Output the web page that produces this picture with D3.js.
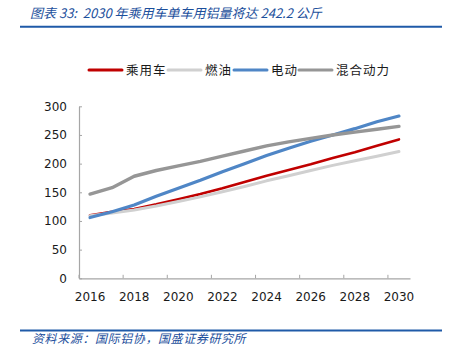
<!DOCTYPE html>
<html>
<head>
<meta charset="utf-8">
<script src="https://cdn.jsdelivr.net/npm/d3@7"></script>
<style>
  body { margin: 0; background: #fff; }
  svg { display: block; }
</style>
</head>
<body>
<div id="chart"></div>
<script>
const YEARS = d3.range(2016, 2031)
const X_TICKS = [2016, 2018, 2020, 2022, 2024, 2026, 2028, 2030]
const Y_TICKS = [0, 50, 100, 150, 200, 250, 300]

const SERIES_NAMES = ["乘用车", "燃油", "电动", "混合动力"]
const PASSENGER = [110, 116, 121, 129, 138, 147, 157, 168, 179, 189, 199, 210, 220, 231, 242.2]
const FUEL = [109, 114, 119, 126, 134, 142, 151, 160, 170, 179, 188, 197, 205, 213, 221]
const ELECTRIC = [106, 116, 128, 143, 157, 171, 186, 200, 214, 227, 239, 250, 261, 273, 283]
const HYBRID = [147, 158, 178, 188, 196, 204, 213, 222, 231, 238, 244, 250, 255, 260, 265]

const TITLE = "图表 33:  2030 年乘用车单车用铝量将达 242.2 公斤"
const SOURCE = "资料来源：国际铝协，国盛证券研究所"

const WIDTH = 452
const HEIGHT = 354
const PLOT = { LEFT: 79, RIGHT: 410, TOP: 106.3, BOTTOM: 278.3 }
const COLORS = ["#c00000", "#d0d0d0", "#4f86c6", "#969696"]
const STROKES = [2.6, 3, 3.2, 3.4]
const AXIS_COLOR = "#a6a6a6"
const BLUE_TEXT = "#1c4f9c"

const svg = d3.select("#chart")
  .append("svg")
  .attr("width", WIDTH)
  .attr("height", HEIGHT)

svg.append("rect").attr("width", WIDTH).attr("height", HEIGHT).attr("fill", "#fff")

// header + footer
svg.append("text")
  .attr("x", 30)
  .attr("y", 18)
  .attr("font-family", "'Noto Sans CJK SC', sans-serif")
  .attr("font-size", 13)
  .attr("font-style", "italic")
  .attr("fill", BLUE_TEXT)
  .attr("xml:space", "preserve")
  .text(TITLE)

svg.append("line")
  .attr("x1", 20).attr("x2", 442)
  .attr("y1", 26.7).attr("y2", 26.7)
  .attr("stroke", "#1f5aa8")
  .attr("stroke-width", 2)

svg.append("line")
  .attr("x1", 20).attr("x2", 442)
  .attr("y1", 330.5).attr("y2", 330.5)
  .attr("stroke", "#1f5aa8")
  .attr("stroke-width", 2)

svg.append("text")
  .attr("x", 32)
  .attr("y", 343)
  .attr("font-family", "'Noto Sans CJK SC', sans-serif")
  .attr("font-size", 12)
  .attr("font-style", "italic")
  .attr("fill", BLUE_TEXT)
  .attr("letter-spacing", 0.6)
  .text(SOURCE)

// scales
const x = d3.scaleBand()
  .domain(YEARS)
  .range([PLOT.LEFT, PLOT.RIGHT])

const y = d3.scaleLinear()
  .domain([0, 300])
  .range([PLOT.BOTTOM, PLOT.TOP])

const xMid = d => x(d) + x.bandwidth() / 2

// axes
const yAxis = d3.axisLeft(y)
  .tickValues(Y_TICKS)
  .tickSizeInner(-3)
  .tickSizeOuter(0)
  .tickPadding(12)

const yAxisGroup = svg.append("g")
  .attr("transform", `translate(${PLOT.LEFT},0)`)
  .call(yAxis)

// boundary ticks every 2 years, labels centred in the bands
const xAxis = d3.axisBottom(x)
  .tickValues(X_TICKS)
  .tickSize(0)
  .tickPadding(12)

const xAxisGroup = svg.append("g")
  .attr("transform", `translate(0,${PLOT.BOTTOM})`)
  .call(xAxis)

xAxisGroup.selectAll(".tick")
  .append("line")
  .attr("class", "bound")
  .attr("x1", -x.bandwidth() / 2)
  .attr("x2", -x.bandwidth() / 2)
  .attr("y1", 0)
  .attr("y2", -3.5)

for (const g of [xAxisGroup, yAxisGroup]) {
  g.select(".domain").attr("stroke", AXIS_COLOR).attr("stroke-width", 1.2)
  g.selectAll(".tick line").attr("stroke", AXIS_COLOR).attr("stroke-width", 1)
  g.selectAll(".tick text")
    .attr("font-family", "'DejaVu Sans', Verdana, sans-serif")
    .attr("font-size", 12)
    .attr("fill", "#1a1a1a")
}
xAxisGroup.selectAll(".tick text").attr("dy", "0.9em")

// lines
const seriesData = [PASSENGER, FUEL, ELECTRIC, HYBRID].map((vals, i) => ({
  name: SERIES_NAMES[i],
  values: vals.map((v, j) => ({ year: YEARS[j], value: v }))
}))

const line = d3.line()
  .x(d => xMid(d.year))
  .y(d => y(d.value))

svg.append("g")
  .selectAll("path")
  .data(seriesData)
  .enter()
  .append("path")
  .attr("d", d => line(d.values))
  .attr("fill", "none")
  .attr("stroke", (d, i) => COLORS[i])
  .attr("stroke-width", (d, i) => STROKES[i])
  .attr("stroke-linejoin", "round")
  .attr("stroke-linecap", "round")

// legend
const LEGEND_X = [89, 168, 234, 299]
const legend = svg.append("g")
  .selectAll("g")
  .data(seriesData)
  .enter()
  .append("g")
  .attr("transform", (d, i) => `translate(${LEGEND_X[i]},70)`)

legend.append("line")
  .attr("x1", 0).attr("x2", 33)
  .attr("y1", 0).attr("y2", 0)
  .attr("stroke", (d, i) => COLORS[i])
  .attr("stroke-width", 3)
  .attr("stroke-linecap", "round")

legend.append("text")
  .attr("x", 37)
  .attr("y", 4.5)
  .attr("font-family", "'Noto Sans CJK SC', sans-serif")
  .attr("font-size", 12.5)
  .attr("fill", "#1a1a1a")
  .attr("letter-spacing", 1)
  .text(d => d.name)
</script>
</body>
</html>
